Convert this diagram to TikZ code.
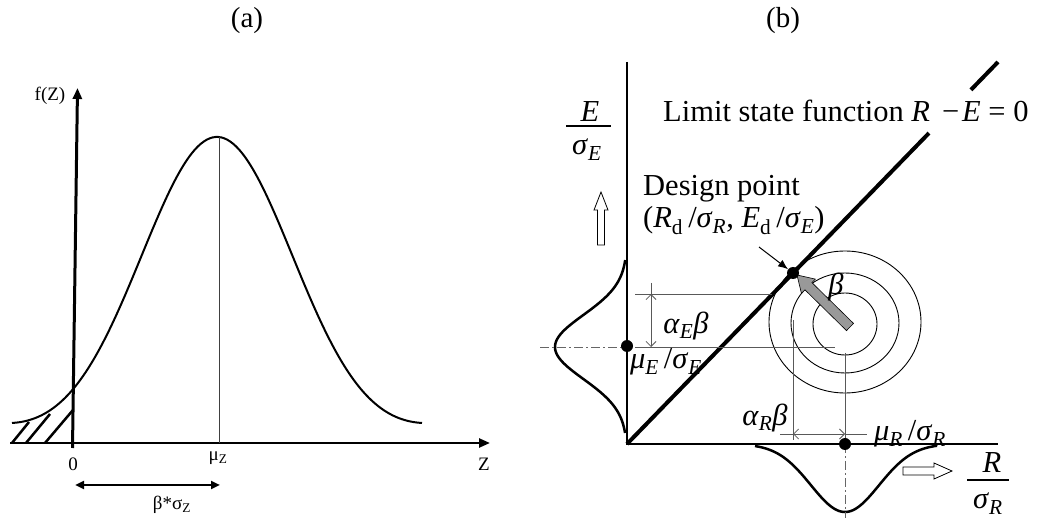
\documentclass[tikz,border=0pt]{standalone}
\usepackage{fontspec}
\setmainfont{Liberation Serif}
\usetikzlibrary{arrows.meta,calc}
\begin{document}
\begin{tikzpicture}[x=1pt,y=-1pt,
  lbl/.style={inner sep=0pt, font=\fontsize{30.5}{32}\selectfont},
  albl/.style={inner sep=0pt, font=\fontsize{19}{21}\selectfont},
  ttl/.style={inner sep=0pt, font=\fontsize{29}{31}\selectfont},
  dimline/.style={draw=black!65, line width=0.8pt},
  barb/.style={dimline, {Straight Barb[length=5pt,width=10pt]}-{Straight Barb[length=5pt,width=10pt]}},
  dotnode/.style={circle, fill=black, inner sep=0pt, minimum size=12pt},
  dashdot/.style={draw=black!60, line width=0.9pt, dash pattern=on 9pt off 3pt on 2pt off 3pt},
  hollow/.style={draw=black, line width=0.8pt, fill=white},
]
\useasboundingbox (0,0) rectangle (1037,518);

% ---------------- panel (a)
\node[ttl] (ta) at (247,21) {(a)};
\coordinate (ya0) at (72.5,448);
\coordinate (ya1) at (77.5,88);
\coordinate (xa0) at (10,443);
\coordinate (xa1) at (490,443);
\draw[line width=3pt, -{Triangle[length=11pt,width=9pt]}] (ya0) -- (ya1);
\draw[line width=2.4pt, -{Triangle[length=11pt,width=9pt]}] (xa0) -- (xa1);
\draw[line width=2pt] plot[domain=12:422, samples=140, smooth]
  (\x, {443-306*exp(-((\x-217)/107.5)*((\x-217)/107.5))-12*((\x-217)/205)*((\x-217)/205)*((\x-217)/205)*((\x-217)/205)});
\draw[line width=1pt, black!75] (219,137) -- (219,443);
\draw[line width=2.5pt] (12,443) -- (29,422);
\draw[line width=2.5pt] (26,443) -- (50,414);
\draw[line width=2.5pt] (45,443) -- (73,410);
\node[albl] (fz) at (50,96) {f(Z)};
\node[albl] (zero) at (73,464) {0};
\node[albl] (muz) at (218,458) {μ\textsubscript{Z}};
\node[albl] (zl) at (484,464) {Z};
\coordinate (ba0) at (75,485);
\coordinate (ba1) at (220,485);
\draw[line width=2.4pt, {Triangle[length=9pt,width=8pt]}-{Triangle[length=9pt,width=8pt]}] (ba0) -- (ba1);
\node[albl] (bs) at (172,505) {β*σ\textsubscript{Z}};

% ---------------- panel (b)
\node[ttl] (tb) at (783,21) {(b)};
\coordinate (O) at (627,444);
\coordinate (Ytop) at (627,62);
\coordinate (Xend) at (998,444);
\coordinate (T) at (998,62);
\draw[line width=1.2pt] (Ytop) -- (O) -- (Xend);
% limit state line (broken behind the text)
\draw[line width=4pt] (O) -- ($(O)!0.814!(T)$);
\draw[line width=4pt] ($(O)!0.927!(T)$) -- (T);
\node[lbl, anchor=base west] (lsf) at (663,122) {Limit state function \textit{R}\hspace{12pt}−\hspace{3pt}\textit{E} = 0};

% density curves
\draw[line width=2.5pt] plot[domain=260:433, samples=90, smooth] ({627-72*exp(-((\x-347)/45.25)*((\x-347)/45.25))}, \x);
\draw[line width=2.5pt] plot[domain=755:937, samples=90, smooth] (\x, {444+68*exp(-((\x-845)/48.08)*((\x-845)/48.08))});

% circles
\draw[line width=0.9pt] (845,324) ellipse [x radius=32, y radius=31];
\draw[line width=0.9pt] (845,323) ellipse [x radius=54, y radius=50];
\draw[line width=0.9pt] (845,322) ellipse [x radius=76, y radius=71];

% construction lines
\draw[dashdot] (540,347) -- (627,347);
\draw[dimline] (635,347) -- (835,347);
\draw[dimline] (635,294) -- (772,294);
\draw[dimline] (651,283) -- (651,294);
\draw[barb] (651,294) -- (651,347);
\draw[dimline] (793,320) -- (793,440);
\draw[dimline] (845,353) -- (845,444);
\draw[dimline] (780,434) -- (793,434);
\draw[barb] (793,434) -- (845,434);
\draw[dimline] (845,434) -- (867,434);
\draw[dashdot] (845,444) -- (845,518);

% gray beta arrow
\draw[fill=black!40, line width=0.6pt] (853.5,323.4) -- (811.9,282.6) -- (815.4,279.1) -- (797,275)
  -- (801.4,293.3) -- (804.9,289.8) -- (846.5,330.6) -- cycle;

% dots
\node[dotnode] (dE) at (627,346) {};
\node[dotnode] (dR) at (845,444) {};
\node[dotnode] (dp) at (793,273) {};
\coordinate (dpa) at (759,247);
\draw[line width=1pt, -{Latex[length=10pt,width=8pt]}] (dpa) -- (dp);

% hollow arrows
\draw[hollow] (597.5,245) -- (597.5,210) -- (594,210) -- (601,192) -- (608,210) -- (604.5,210) -- (604.5,245) -- cycle;
\draw[hollow] (903,467) -- (934,467) -- (934,463) -- (952,471) -- (934,479) -- (934,475) -- (903,475) -- cycle;

% labels
\node[lbl, anchor=base] (lE) at (590,122) {\textit{E}};
\draw[line width=1.2pt] (566,126) -- (611,126);
\node[lbl, anchor=base] (lsE) at (587,155) {\textit{σ}\textsubscript{\textit{E}}};
\node[lbl, anchor=base] (lR) at (992,473) {\textit{R}};
\draw[line width=1.2pt] (967,480) -- (1009,480);
\node[lbl, anchor=base] (lsR) at (988,509) {\textit{σ}\textsubscript{\textit{R}}};
\node[lbl, anchor=base west] (dpt) at (643,196) {Design point};
\node[lbl, anchor=base west] (dpc) at (643,228) {(\textit{R}\textsubscript{d}\,/\textit{σ}\textsubscript{\textit{R}}, \textit{E}\textsubscript{d}\,/\textit{σ}\textsubscript{\textit{E}})};
\node[lbl] (aE) at (686,326) {\textit{α}\textsubscript{\textit{E}}\textit{β}};
\node[lbl] (muE) at (666,362) {\textit{μ}\textsubscript{\textit{E}}\,/\textit{σ}\textsubscript{\textit{E}}};
\node[lbl] (bet) at (836,287) {\textit{β}};
\node[lbl] (aR) at (765,418) {\textit{α}\textsubscript{\textit{R}}\textit{β}};
\node[lbl] (muR) at (910,434) {\textit{μ}\textsubscript{\textit{R}}\,/\textit{σ}\textsubscript{\textit{R}}};
\end{tikzpicture}
\end{document}
